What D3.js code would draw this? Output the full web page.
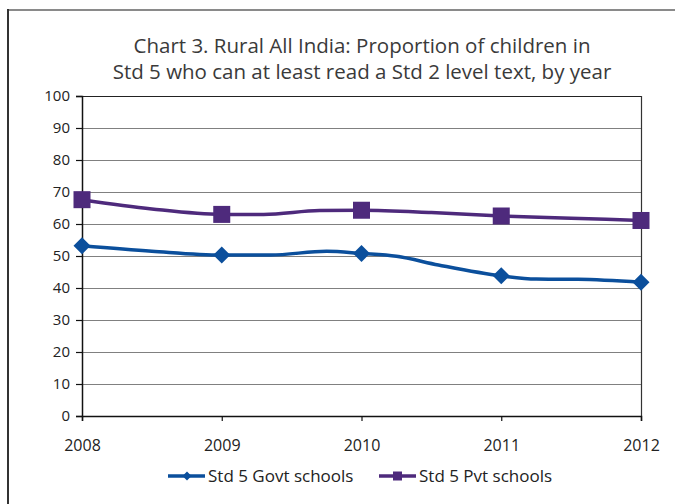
<!DOCTYPE html>
<html>
<head>
<meta charset="utf-8">
<script src="https://cdn.jsdelivr.net/npm/d3@7"></script>
<style>
  html, body { margin: 0; padding: 0; background: #fff; }
  svg { display: block; font-family: "Open Sans", "DejaVu Sans", sans-serif; }
</style>
</head>
<body>
<svg id="chart" width="675" height="504"></svg>
<script>
// Survey years and the yearly values shown by the markers
const years = [2008, 2009, 2010, 2011, 2012];
const govtValues = [53.2, 50.3, 50.8, 43.8, 41.8];
const pvtValues = [67.6, 63.0, 64.3, 62.5, 61.1];

// Vertices of the drawn trend lines (year position, value)
const govtPathYears = [2008, 2008.5, 2009, 2009.35, 2009.75, 2010, 2010.25, 2010.55, 2011, 2011.25, 2011.55, 2012];
const govtPathValues = [53.2, 51.5, 50.3, 50.3, 51.5, 50.8, 49.9, 47.2, 43.8, 42.8, 42.7, 41.8];
const pvtPathYears = [2008, 2008.5, 2009, 2009.3, 2009.7, 2010, 2010.5, 2011, 2011.5, 2012];
const pvtPathValues = [67.6, 64.7, 63.0, 63.0, 64.2, 64.3, 63.6, 62.5, 61.8, 61.1];

const yTicks = [0, 10, 20, 30, 40, 50, 60, 70, 80, 90, 100];
const titleLines = ["Chart 3. Rural All India: Proportion of children in",
                    "Std 5 who can at least read a Std 2 level text, by year"];
const seriesNames = ["Std 5 Govt schools", "Std 5 Pvt schools"];
const govtColor = "#0b4f9c";
const pvtColor = "#4e2a7c";

const svg = d3.select("#chart");

// outer frame (only top and left edges fall inside the page)
svg.append("line").attr("x1", 8).attr("x2", 675).attr("y1", 10).attr("y2", 10)
  .attr("stroke", "#8a8a8a").attr("stroke-width", 2);
svg.append("line").attr("x1", 8).attr("x2", 8).attr("y1", 9).attr("y2", 504)
  .attr("stroke", "#333").attr("stroke-width", 2);

// title
svg.append("g").selectAll("text").data(titleLines).join("text")
  .attr("x", 362).attr("y", (d, i) => 53 + i * 26)
  .attr("text-anchor", "middle")
  .attr("font-size", 20.5)
  .attr("fill", "#3a3a3a")
  .text(d => d);

const x = d3.scaleLinear().domain([2008, 2012]).range([82, 641]);
const y = d3.scaleLinear().domain([0, 100]).range([416, 96]);

// gridlines
svg.append("g").selectAll("line").data(yTicks.filter(t => t > 0)).join("line")
  .attr("x1", x(2008)).attr("x2", x(2012))
  .attr("y1", d => Math.round(y(d)) + 0.5).attr("y2", d => Math.round(y(d)) + 0.5)
  .attr("stroke", d => d === 100 ? "#222" : "#808080").attr("stroke-width", 1.2);

// right edge of plot
svg.append("line").attr("x1", x(2012) + 0.5).attr("x2", x(2012) + 0.5)
  .attr("y1", y(100)).attr("y2", y(0)).attr("stroke", "#333").attr("stroke-width", 1.2);

// y axis
const yAxis = svg.append("g").attr("transform", `translate(${x(2008)},0)`)
  .call(d3.axisLeft(y).tickValues(yTicks).tickSize(6).tickPadding(6));
yAxis.attr("font-size", null).attr("font-family", null);
yAxis.select(".domain").attr("stroke", "#111").attr("stroke-width", 1.5);
yAxis.selectAll(".tick line").attr("stroke", "#111").attr("stroke-width", 1.2);
yAxis.selectAll(".tick text").style("font-size", "15px").attr("fill", "#222");

// x axis
const xAxis = svg.append("g").attr("transform", `translate(0,${y(0)})`)
  .call(d3.axisBottom(x).tickValues(years).tickFormat(d3.format("d")).tickSize(5).tickPadding(19));
xAxis.attr("font-size", null).attr("font-family", null);
xAxis.select(".domain").attr("stroke", "#111").attr("stroke-width", 1.5);
xAxis.selectAll(".tick line").attr("stroke", "#111").attr("stroke-width", 1.2);
xAxis.selectAll(".tick text").style("font-size", "16px").attr("fill", "#222");

// lines
const lineGen = d3.line().x(d => x(d[0])).y(d => y(d[1])).curve(d3.curveMonotoneX);
const govtPath = govtPathYears.map((t, i) => [t, govtPathValues[i]]);
const pvtPath = pvtPathYears.map((t, i) => [t, pvtPathValues[i]]);

svg.append("path").datum(pvtPath).attr("d", lineGen)
  .attr("fill", "none").attr("stroke", pvtColor).attr("stroke-width", 3.5).attr("stroke-linejoin", "round");
svg.append("path").datum(govtPath).attr("d", lineGen)
  .attr("fill", "none").attr("stroke", govtColor).attr("stroke-width", 3.5).attr("stroke-linejoin", "round");

// markers
const diamond = s => `M0,${-s}L${s},0L0,${s}L${-s},0Z`;
svg.append("g").selectAll("path").data(years).join("path")
  .attr("transform", (d, i) => `translate(${x(d)},${y(govtValues[i])})`)
  .attr("d", diamond(8.5)).attr("fill", govtColor);
svg.append("g").selectAll("rect").data(years).join("rect")
  .attr("x", (d) => x(d) - 8.5).attr("y", (d, i) => y(pvtValues[i]) - 8.5)
  .attr("width", 17).attr("height", 17).attr("fill", pvtColor);

// legend
const legend = svg.append("g");
const legendItems = [
  { name: seriesNames[0], color: govtColor, x0: 168, shape: "diamond" },
  { name: seriesNames[1], color: pvtColor, x0: 379, shape: "square" }
];
const ly = 476;
legendItems.forEach(it => {
  legend.append("line").attr("x1", it.x0).attr("x2", it.x0 + 37).attr("y1", ly).attr("y2", ly)
    .attr("stroke", it.color).attr("stroke-width", 3.5);
  if (it.shape === "diamond") {
    legend.append("path").attr("transform", `translate(${it.x0 + 19},${ly})`)
      .attr("d", diamond(4.5)).attr("fill", it.color);
  } else {
    legend.append("rect").attr("x", it.x0 + 14).attr("y", ly - 4.5)
      .attr("width", 9).attr("height", 9).attr("fill", it.color);
  }
  legend.append("text").attr("x", it.x0 + 40).attr("y", ly + 6)
    .attr("font-size", 17).attr("fill", "#222").text(it.name);
});
</script>
</body>
</html>
